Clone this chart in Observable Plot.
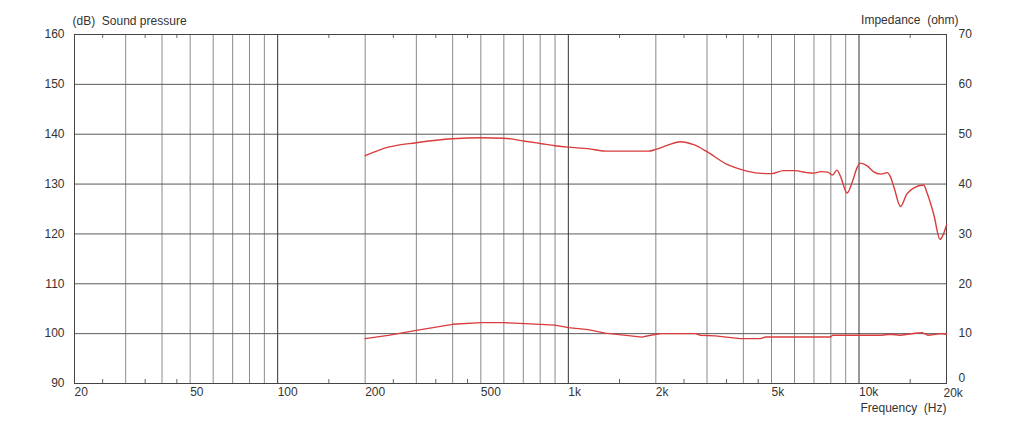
<!DOCTYPE html>
<html>
<head>
<meta charset="utf-8">
<script src="https://cdn.jsdelivr.net/npm/d3@7"></script>
<script src="https://cdn.jsdelivr.net/npm/@observablehq/plot@0.6"></script>
<style>
  html, body { margin: 0; padding: 0; background: #fff; }
  #chart svg { display: block; }
</style>
</head>
<body>
<div id="chart"></div>
<script>
// Sound pressure (dB) curve
const splFreq = [200, 240, 300, 400, 500, 600, 710, 810, 900, 1000, 1170, 1340, 1600, 1890, 2000, 2200, 2430, 2700, 3000, 3500, 4000, 4500, 5000, 5500, 6000, 6600, 7000, 7400, 7800, 8100, 8400, 8630, 9100, 9470, 9850, 10100, 10700, 11200, 11900, 12500, 12800, 13200, 13900, 14600, 15400, 16700, 17100, 18100, 19000, 19500, 20000];
const splDb = [135.7, 137.4, 138.3, 139.1, 139.3, 139.2, 138.6, 138.1, 137.7, 137.4, 137.1, 136.6, 136.6, 136.6, 136.95, 137.8, 138.5, 137.9, 136.5, 134.0, 132.8, 132.2, 132.1, 132.7, 132.7, 132.3, 132.2, 132.5, 132.4, 131.8, 132.8, 131.6, 128.2, 130.3, 133.3, 134.2, 133.6, 132.5, 132.0, 132.3, 131.6, 129.3, 125.5, 128.0, 129.2, 129.8, 128.4, 123.8, 118.9, 119.9, 121.8];

// Impedance (ohm) curve
const impFreq = [200, 240, 300, 400, 500, 600, 710, 900, 1000, 1170, 1340, 1580, 1790, 1920, 2080, 2740, 2850, 3200, 3900, 4580, 4770, 6300, 7980, 8110, 11900, 12800, 13900, 15600, 16500, 17300, 19100, 20000];
const impOhm = [9.0, 9.66, 10.66, 11.87, 12.2, 12.2, 12.0, 11.7, 11.2, 10.8, 10.1, 9.66, 9.3, 9.67, 10.0, 10.0, 9.67, 9.55, 9.0, 9.0, 9.33, 9.33, 9.33, 9.67, 9.67, 9.87, 9.67, 10.07, 10.2, 9.67, 10.0, 9.87];

// Axis ticks
const freqTicks = [20, 50, 100, 200, 500, 1000, 2000, 5000, 10000, 20000];
const freqLabels = ["20", "50", "100", "200", "500", "1k", "2k", "5k", "10k", "20k"];
const gridFreqs = [30, 40, 50, 60, 70, 80, 90, 200, 300, 400, 500, 600, 700, 800, 900, 2000, 3000, 4000, 5000, 6000, 7000, 8000, 9000];
const majorFreqs = [100, 1000, 10000];
const minorTickFreqs = [25, 35, 45, 150, 250, 350, 450, 1500, 2500, 3500, 4500, 15000];
const dbTicks = [90, 100, 110, 120, 130, 140, 150, 160];
const ohmTicks = [0, 10, 20, 30, 40, 50, 60, 70];
const ohmOffset = 90; // 0 ohm sits on 90 dB, 70 ohm on 160 dB

const spl = splFreq.map((f, i) => ({f, v: splDb[i]}));
const imp = impFreq.map((f, i) => ({f, v: impOhm[i] + ohmOffset}));

const red = "#d83c3c";
const txt = "#333";
const font = "Liberation Sans, Arial, sans-serif";

const chart = Plot.plot({
  width: 1022,
  height: 423,
  marginLeft: 74,
  marginRight: 76,
  marginTop: 34,
  marginBottom: 40,
  style: {fontFamily: font, fontSize: "12px", color: txt, background: "#fff"},
  x: {type: "log", domain: [20, 20000], axis: null},
  y: {domain: [90, 160], axis: null},
  marks: [
    Plot.ruleX(gridFreqs, {stroke: "#8a8a8a", strokeWidth: 1}),
    Plot.ruleY(dbTicks.slice(1, -1), {stroke: "#5a5a5a", strokeWidth: 1}),
    Plot.ruleX(majorFreqs, {stroke: "#333", strokeWidth: 1}),
    Plot.ruleX(minorTickFreqs, {y1: 90, y2: 90.8, stroke: "#666"}),
    Plot.ruleX(minorTickFreqs, {y1: 159.2, y2: 160, stroke: "#666"}),
    Plot.frame({stroke: "#444", strokeWidth: 1}),
    Plot.line(spl, {x: "f", y: "v", stroke: red, strokeWidth: 1.4, curve: "monotone-x"}),
    Plot.line(imp, {x: "f", y: "v", stroke: red, strokeWidth: 1.4, curve: "linear"}),
    // bottom tick labels (left aligned at gridline; last one pulled in)
    Plot.text(freqTicks.slice(0, -1), {x: d => d, text: (d, i) => freqLabels[i], frameAnchor: "bottom", dy: 12, textAnchor: "start", fill: txt}),
    Plot.text(freqTicks.slice(-1), {x: d => d, text: () => freqLabels[freqLabels.length - 1], frameAnchor: "bottom", dy: 13, dx: -3, textAnchor: "start", fill: txt}),
    // left dB labels
    Plot.text(dbTicks, {y: d => d, text: d => String(d), frameAnchor: "left", dx: -10, textAnchor: "end", fill: txt}),
    // right ohm labels (0 raised off the frequency labels)
    Plot.text(ohmTicks.slice(1), {y: d => d + ohmOffset, text: d => String(d), frameAnchor: "right", dx: 12, textAnchor: "start", fill: txt}),
    Plot.text(ohmTicks.slice(0, 1), {y: d => d + ohmOffset, text: d => String(d), frameAnchor: "right", dx: 12, dy: -5, textAnchor: "start", fill: txt}),
    // titles
    Plot.text(["(dB)\u00a0\u00a0Sound pressure"], {frameAnchor: "top-left", dx: -2, dy: -18, textAnchor: "start", fill: txt}),
    Plot.text(["Impedance\u00a0\u00a0(ohm)"], {frameAnchor: "top-right", dx: 12, dy: -19, textAnchor: "end", fill: txt}),
    Plot.text(["Frequency\u00a0\u00a0(Hz)"], {frameAnchor: "bottom-right", dx: 0, dy: 28, textAnchor: "end", fill: txt})
  ]
});
document.getElementById("chart").appendChild(chart);
</script>
</body>
</html>
